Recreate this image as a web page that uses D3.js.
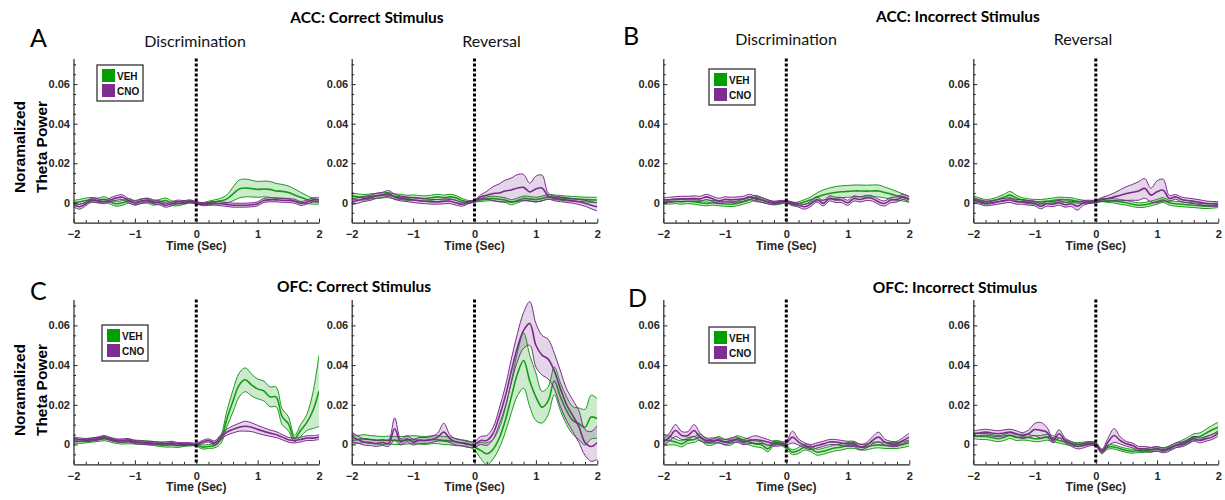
<!DOCTYPE html>
<html>
<head>
<meta charset="utf-8">
<script src="https://cdn.jsdelivr.net/npm/d3@7"></script>
<style>
  body { margin: 0; background: #fff; }
  svg { display: block; }
  .tick text { font-family: Arial, "Liberation Sans", sans-serif; font-weight: bold; font-size: 11px; fill: #262626; }
</style>
</head>
<body>
<svg id="chart" width="1225" height="500"></svg>
<script>
// ---- time base (s, relative to stimulus) ----
const timeSec = [-2.0,-1.9,-1.8,-1.7,-1.6,-1.5,-1.4,-1.3,-1.2,-1.1,-1.0,-0.9,-0.8,-0.7,-0.6,-0.5,-0.4,-0.3,-0.2,-0.1,0.0,
  0.1,0.2,0.3,0.4,0.5,0.6,0.7,0.8,0.9,1.0,1.1,1.2,1.3,1.4,1.5,1.6,1.7,1.8,1.9,2.0];

const groups = ["VEH", "CNO"];

// ---- ACC, correct stimulus, discrimination ----
const accCorrDiscVehMean = [0,0.0005,0.0012,0.0015,0.0012,0.0018,0.0005,-0.0005,0,0.001,0,0.0008,0.001,0,0.0005,0.0012,-0.0002,-0.0005,0,0.0005,0,
  -0.0005,0,0.0005,0.001,0.002,0.0045,0.007,0.0075,0.0072,0.0068,0.007,0.0068,0.006,0.0058,0.0052,0.004,0.0028,0.0017,0.0008,0.0005];
const accCorrDiscVehSem = [0.0013,0.0012,0.0012,0.0012,0.0012,0.0013,0.0012,0.0012,0.0012,0.0012,0.0012,0.0012,0.0012,0.0012,0.0012,0.0012,0.0012,0.001,0.0008,0.0006,0.0005,
  0.0006,0.0008,0.001,0.0013,0.002,0.0035,0.0045,0.0045,0.0042,0.004,0.004,0.004,0.0038,0.0035,0.0033,0.003,0.0025,0.002,0.0015,0.0012];
const accCorrDiscCnoMean = [-0.001,-0.002,-0.0005,0.0014,0.001,0.0005,0.0015,0.0025,0.0028,0.001,0,0.0008,0.0014,0.0005,0,-0.0012,-0.0005,0.0005,0.0003,0.0008,0,
  -0.0007,-0.0005,-0.0003,-0.0005,-0.0008,-0.0012,-0.0012,-0.0012,-0.001,-0.0005,0.0012,0.0015,0.0015,0.0013,0.0012,0.0008,-0.0003,0.0003,0.0015,0.0015];
const accCorrDiscCnoSem = [0.0011,0.0012,0.001,0.001,0.001,0.001,0.001,0.0012,0.0012,0.001,0.001,0.001,0.001,0.001,0.001,0.001,0.001,0.0009,0.0008,0.0007,0.0006,
  0.0007,0.0008,0.0009,0.001,0.001,0.001,0.001,0.001,0.001,0.001,0.001,0.001,0.001,0.001,0.001,0.001,0.001,0.001,0.0011,0.0012];

// ---- ACC, correct stimulus, reversal ----
const accCorrRevVehMean = [0.0035,0.003,0.0028,0.0032,0.0035,0.0038,0.0039,0.0032,0.003,0.0025,0.0027,0.0024,0.0022,0.0026,0.003,0.0026,0.003,0.0025,0.0012,0.0005,0.0008,
  0.0015,0.002,0.0022,0.0018,0.0014,0.0003,0.0012,0.0022,0.002,0.0016,0.0022,0.003,0.0028,0.0025,0.0022,0.002,0.0018,0.0017,0.0015,0.0014];
const accCorrRevVehSem = [0.0016,0.0015,0.0014,0.0013,0.0013,0.0013,0.0013,0.0013,0.0013,0.0013,0.0013,0.0013,0.0013,0.0013,0.0013,0.0013,0.0013,0.0012,0.001,0.0007,0.0005,
  0.0008,0.001,0.0012,0.0012,0.0012,0.0013,0.0012,0.0012,0.0012,0.0012,0.0012,0.0012,0.0012,0.0012,0.0012,0.0012,0.0012,0.0012,0.0013,0.0014];
const accCorrRevCnoMean = [0.0005,0.0012,0.002,0.0025,0.0035,0.004,0.0047,0.003,0.0022,0.0018,0.0014,0.001,0.0008,0.0005,0.0005,0.0007,0.0008,0,-0.0007,0.0002,0.001,
  0.003,0.0038,0.0047,0.005,0.006,0.0065,0.0075,0.0078,0.0055,0.007,0.0075,0.0034,0.0022,0.0018,0.0014,0.001,0.0005,-0.0002,-0.0012,-0.002];
const accCorrRevCnoSem = [0.0015,0.0014,0.0013,0.0013,0.0013,0.0013,0.0015,0.0013,0.0012,0.0012,0.0012,0.0012,0.0012,0.0012,0.0012,0.0012,0.0012,0.0012,0.001,0.0007,0.0005,
  0.001,0.002,0.0035,0.0045,0.0055,0.006,0.0068,0.0065,0.0045,0.0065,0.0065,0.0015,0.0012,0.0012,0.0012,0.0012,0.0013,0.0015,0.0018,0.0022];

// ---- ACC, incorrect stimulus, discrimination ----
const accIncDiscVehMean = [0.0005,0.0005,0.0008,0.0005,0.0008,0.0005,0,-0.0003,0,-0.0003,-0.0005,-0.0007,-0.0003,0.0005,0.0014,0.0025,0.0015,0.0005,-0.0003,0,0.0005,
  -0.0007,-0.0005,0.0005,0.0015,0.003,0.004,0.0047,0.0052,0.0056,0.0058,0.006,0.006,0.0059,0.006,0.006,0.0052,0.0044,0.0035,0.0027,0.0017];
const accIncDiscVehSem = [0.0012,0.0012,0.0012,0.0012,0.0012,0.0012,0.0012,0.0012,0.0012,0.0012,0.0012,0.0012,0.0012,0.0012,0.0012,0.0013,0.0012,0.001,0.0008,0.0007,0.0006,
  0.0008,0.001,0.0012,0.0015,0.002,0.0025,0.0028,0.003,0.003,0.003,0.003,0.003,0.003,0.003,0.003,0.0028,0.0025,0.0022,0.0018,0.0015];
const accIncDiscCnoMean = [0.0014,0.0015,0.0018,0.002,0.002,0.0022,0.002,0.003,0.002,0.001,0.0017,0.0015,0.0017,0.002,0.003,0.002,0.0014,0.0005,0,0.0005,0.0005,
  -0.0003,-0.0012,-0.002,-0.0005,0.0017,-0.0003,0.0022,0.0015,0.0014,0,0.0022,0.0017,0.0025,0.0022,0.0005,-0.0003,0.0014,0.0017,0.003,0.0017];
const accIncDiscCnoSem = [0.0013,0.0013,0.0013,0.0013,0.0013,0.0013,0.0013,0.0013,0.0013,0.0013,0.0013,0.0013,0.0013,0.0013,0.0013,0.0013,0.0012,0.001,0.0008,0.0007,0.0006,
  0.0008,0.001,0.0012,0.0013,0.0013,0.0013,0.0013,0.0013,0.0013,0.0013,0.0013,0.0013,0.0013,0.0013,0.0013,0.0013,0.0013,0.0013,0.0013,0.0013];

// ---- ACC, incorrect stimulus, reversal ----
const accIncRevVehMean = [0.0022,0.0012,0.0005,0.0008,0.0017,0.0028,0.0039,0.0025,0.0014,0.0008,0.0005,0.0005,0.0008,0.0012,0.0017,0.0015,0.0014,0.0008,0.0005,0.0003,0.0005,
  0.0014,0.0012,0.001,0.0005,0,-0.0007,-0.0012,-0.001,-0.0003,0.0005,0.0014,0,-0.0005,-0.0007,-0.001,-0.0012,-0.0015,-0.0017,-0.0015,-0.0012];
const accIncRevVehSem = [0.0015,0.0013,0.0012,0.0012,0.0013,0.0015,0.0018,0.0014,0.0012,0.0012,0.0012,0.0012,0.0012,0.0012,0.0012,0.0012,0.0012,0.001,0.0008,0.0006,0.0005,
  0.0008,0.001,0.0011,0.0012,0.0012,0.0012,0.0012,0.0012,0.0012,0.0012,0.0012,0.0012,0.0012,0.0012,0.0012,0.0012,0.0012,0.0012,0.0012,0.0012];
const accIncRevCnoMean = [0.0014,0.0005,-0.0003,0,0.0005,0.001,0.0014,0.0005,0.0005,0,-0.0003,-0.0017,-0.0005,-0.0007,0,-0.001,-0.0005,-0.0017,0,0.0005,0.0008,
  0.0017,0.0022,0.003,0.0038,0.0047,0.0053,0.006,0.0073,0.0039,0.0056,0.0064,0.0022,0.003,0.0017,0.0012,0.0008,0.0003,-0.0003,-0.0005,-0.0007];
const accIncRevCnoSem = [0.0013,0.0012,0.0012,0.0012,0.0012,0.0012,0.0012,0.0012,0.0012,0.0012,0.0012,0.0013,0.0012,0.0012,0.0012,0.0012,0.0013,0.002,0.0012,0.0008,0.0006,
  0.001,0.0015,0.002,0.0028,0.0035,0.004,0.0047,0.005,0.0035,0.0055,0.0055,0.0015,0.0012,0.0012,0.0012,0.0012,0.0012,0.0012,0.0012,0.0012];

// ---- OFC, correct stimulus, discrimination ----
const ofcCorrDiscVehMean = [0.0012,0.0015,0.0018,0.0022,0.0025,0.0029,0.0022,0.0015,0.0012,0.0014,0.0012,0.001,0.0008,0.0005,0,-0.0003,-0.0003,-0.0005,-0.0002,0,-0.0002,
  -0.0013,-0.001,-0.0005,0.0025,0.013,0.022,0.03,0.0326,0.03,0.028,0.027,0.024,0.024,0.014,0.0105,0.003,0.007,0.011,0.017,0.027];
const ofcCorrDiscVehSem = [0.001,0.001,0.001,0.001,0.001,0.001,0.001,0.001,0.001,0.001,0.001,0.001,0.001,0.001,0.001,0.001,0.001,0.001,0.0008,0.0007,0.0006,
  0.001,0.001,0.0012,0.002,0.004,0.0055,0.006,0.006,0.0055,0.005,0.005,0.005,0.005,0.004,0.0035,0.0015,0.003,0.004,0.009,0.018];
const ofcCorrDiscCnoMean = [0.003,0.0025,0.0022,0.0025,0.003,0.0037,0.0028,0.002,0.002,0.0022,0.0012,0.001,0.0008,0.0007,0.0005,0.0005,0.0008,0.0002,0.0002,0.0002,0,
  0.0012,0.002,0.0008,0.0037,0.0062,0.0076,0.0087,0.0092,0.0087,0.0076,0.0066,0.0057,0.005,0.0037,0.0024,0.002,0.0025,0.0032,0.0032,0.0037];
const ofcCorrDiscCnoSem = [0.0008,0.0008,0.0008,0.0008,0.0008,0.0008,0.0008,0.0008,0.0008,0.0008,0.0008,0.0008,0.0008,0.0008,0.0008,0.0008,0.0008,0.0008,0.0007,0.0006,0.0006,
  0.0008,0.0008,0.001,0.0012,0.0015,0.0018,0.002,0.0025,0.0022,0.002,0.0018,0.0016,0.0015,0.0013,0.0012,0.0012,0.0012,0.0012,0.0012,0.0012];

// ---- OFC, correct stimulus, reversal ----
const ofcCorrRevVehMean = [0.002,0.0025,0.0029,0.0025,0.0022,0.002,0.0022,0.002,0.002,0.0022,0.0024,0.0022,0.002,0.0024,0.0024,0.002,0.0018,0.0012,0.0008,0.0003,-0.0013,
  -0.003,-0.0047,-0.0025,0.003,0.012,0.024,0.0356,0.0423,0.032,0.024,0.0188,0.022,0.032,0.024,0.017,0.0121,0.0104,0.0087,0.0138,0.013];
const ofcCorrRevVehSem = [0.002,0.002,0.002,0.002,0.002,0.002,0.002,0.002,0.002,0.002,0.002,0.002,0.002,0.002,0.002,0.002,0.002,0.0018,0.0015,0.0015,0.0015,
  0.004,0.0055,0.005,0.005,0.006,0.008,0.011,0.014,0.013,0.012,0.008,0.007,0.007,0.007,0.007,0.007,0.008,0.009,0.011,0.01];
const ofcCorrRevCnoMean = [0.0037,0.0025,0.0012,0.001,0.0005,0.001,0.0005,0.0079,0.0012,0.0029,0.0012,0.002,0.002,0.0025,0.0037,0.0062,0.0029,0.0012,0.0007,0,0,
  0.002,0.002,0.0054,0.0138,0.024,0.037,0.049,0.0575,0.061,0.05,0.045,0.043,0.037,0.028,0.02,0.0145,0.009,0.001,-0.001,0.001];
const ofcCorrRevCnoSem = [0.0025,0.0018,0.0015,0.0015,0.0015,0.0015,0.0015,0.0055,0.0015,0.0015,0.0015,0.0015,0.0015,0.0015,0.002,0.0045,0.002,0.0015,0.0015,0.0015,0.0015,
  0.002,0.0025,0.003,0.004,0.005,0.006,0.007,0.009,0.011,0.011,0.01,0.01,0.009,0.009,0.008,0.008,0.008,0.0065,0.0075,0.0085];

// ---- OFC, incorrect stimulus, discrimination ----
const ofcIncDiscVehMean = [0.0024,0.002,0.0012,0.0003,0.002,0.0025,0.0037,0.0012,0.0012,0.0025,0.0012,0.0012,0.0029,0.002,0.0012,0.0003,-0.0002,-0.0022,0.0007,0.0007,-0.0013,
  -0.0039,-0.003,-0.0013,-0.0022,-0.0039,-0.0034,-0.0025,-0.0017,-0.0013,-0.0005,-0.0005,-0.0013,-0.0013,-0.0005,-0.0002,-0.0005,-0.0005,-0.0005,0,0.0007];
const ofcIncDiscVehSem = [0.0028,0.0022,0.0015,0.0015,0.0015,0.0015,0.0015,0.0015,0.0015,0.0015,0.0015,0.0015,0.0015,0.0015,0.0015,0.0015,0.0015,0.0015,0.0012,0.001,0.001,
  0.0012,0.0015,0.0015,0.0015,0.0015,0.0015,0.0015,0.0015,0.0015,0.0015,0.0015,0.0015,0.0015,0.0015,0.0015,0.0015,0.0015,0.0015,0.0015,0.0015];
const ofcIncDiscCnoMean = [0.0012,0.0037,0.007,0.0045,0.0045,0.007,0.0037,0.002,0.002,0.002,0.0012,0.002,0.0024,0.0012,0.002,0.0024,0.002,0.0012,0.0003,0.0003,0.0007,
  0.0037,0.0012,-0.0005,-0.0013,-0.0005,0.0003,0.0012,0.0012,0.0007,0.0003,0.0003,-0.0013,-0.0005,0.002,0.0037,0.0012,0.0003,0.0003,0.002,0.0037];
const ofcIncDiscCnoSem = [0.0015,0.002,0.003,0.002,0.002,0.003,0.002,0.0013,0.0013,0.0013,0.0013,0.0013,0.0013,0.0013,0.0015,0.002,0.0015,0.0013,0.0012,0.001,0.001,
  0.003,0.0015,0.0013,0.0013,0.0013,0.0013,0.0013,0.0013,0.0013,0.0013,0.0013,0.0013,0.0013,0.0018,0.0025,0.0015,0.0013,0.0013,0.0015,0.002];

// ---- OFC, incorrect stimulus, reversal ----
const ofcIncRevVehMean = [0.0045,0.004,0.004,0.0035,0.0029,0.0035,0.0045,0.0035,0.0037,0.0035,0.0029,0.003,0.0037,0.0029,0.002,0.0012,0.0003,0,0.0003,0.0007,0.0003,
  -0.0034,-0.0013,-0.0013,-0.0022,-0.003,-0.0034,-0.003,-0.003,-0.0027,-0.0022,-0.0027,-0.0017,-0.0005,0.0007,0.002,0.0037,0.004,0.0057,0.0074,0.0087];
const ofcIncRevVehSem = [0.0015,0.0015,0.0015,0.0015,0.0015,0.0015,0.0015,0.0015,0.0015,0.0015,0.0015,0.0015,0.0015,0.0015,0.0013,0.0012,0.001,0.001,0.0009,0.0008,0.0008,
  0.0008,0.001,0.001,0.001,0.001,0.001,0.001,0.001,0.001,0.001,0.001,0.001,0.0012,0.0013,0.0015,0.0017,0.0018,0.002,0.0022,0.0025];
const ofcIncRevCnoMean = [0.0054,0.0058,0.0062,0.0058,0.0054,0.0058,0.0062,0.0054,0.0045,0.0054,0.0075,0.0071,0.0062,0.002,0.0054,0.002,0.0003,-0.001,-0.0005,0.0003,0,
  -0.0035,0.0012,0.0045,0.002,0.0003,-0.0005,-0.0022,-0.0022,-0.0027,-0.0022,-0.003,-0.0022,-0.0005,0,0.0012,0.0029,0.002,0.0029,0.0037,0.0057];
const ofcIncRevCnoSem = [0.0015,0.0015,0.0015,0.0015,0.0015,0.0015,0.0015,0.0015,0.0015,0.0018,0.003,0.004,0.0025,0.0012,0.002,0.0012,0.0012,0.0012,0.0012,0.001,0.0008,
  0.0012,0.002,0.0035,0.0018,0.0012,0.0012,0.0012,0.0012,0.0012,0.0012,0.0012,0.0012,0.0012,0.0012,0.0012,0.0012,0.0012,0.0012,0.0012,0.0015];

// ---- axis ticks ----
const xMajorTicks = [-2, -1, 0, 1, 2];
const xMinorTicks = [-1.8,-1.6,-1.4,-1.2,-0.8,-0.6,-0.4,-0.2,0.2,0.4,0.6,0.8,1.2,1.4,1.6,1.8];
const yMajorTicks = [0, 0.02, 0.04, 0.06];
const yMajorLabels = ["0", "0.02", "0.04", "0.06"];
const yMinorTicks = [-0.005,0.005,0.01,0.015,0.025,0.03,0.035,0.045,0.05,0.055,0.065,0.07];

// ---- layout ----
const svg = d3.select("#chart");
const rows = [
  { yBottom: 222.6, yTop: 58.4 },
  { yBottom: 464.3, yTop: 299.6 }
];
const panels = [
  { row: 0, left: 73.5, right: 319,   veh: [accCorrDiscVehMean, accCorrDiscVehSem], cno: [accCorrDiscCnoMean, accCorrDiscCnoSem], legend: [97, 65] },
  { row: 0, left: 351.7, right: 597.3, veh: [accCorrRevVehMean, accCorrRevVehSem],  cno: [accCorrRevCnoMean, accCorrRevCnoSem] },
  { row: 0, left: 663.3, right: 909.3, veh: [accIncDiscVehMean, accIncDiscVehSem],  cno: [accIncDiscCnoMean, accIncDiscCnoSem], legend: [709, 69] },
  { row: 0, left: 973.3, right: 1218.3, veh: [accIncRevVehMean, accIncRevVehSem],   cno: [accIncRevCnoMean, accIncRevCnoSem] },
  { row: 1, left: 73.5, right: 319,   veh: [ofcCorrDiscVehMean, ofcCorrDiscVehSem], cno: [ofcCorrDiscCnoMean, ofcCorrDiscCnoSem], legend: [102, 325] },
  { row: 1, left: 351.7, right: 597.3, veh: [ofcCorrRevVehMean, ofcCorrRevVehSem],  cno: [ofcCorrRevCnoMean, ofcCorrRevCnoSem] },
  { row: 1, left: 663.3, right: 909.3, veh: [ofcIncDiscVehMean, ofcIncDiscVehSem],  cno: [ofcIncDiscCnoMean, ofcIncDiscCnoSem], legend: [709, 327] },
  { row: 1, left: 973.3, right: 1218.3, veh: [ofcIncRevVehMean, ofcIncRevVehSem],   cno: [ofcIncRevCnoMean, ofcIncRevCnoSem] }
];

const colors = {
  VEH: { line: "#169b16", fill: "#009900", swatch: "#00a000" },
  CNO: { line: "#7a2b8c", fill: "#7e2f8e", swatch: "#7d2e8f" }
};
const axisColor = "#262626";
const titleFont = "Lato, 'Open Sans', sans-serif";
const tickFont = "Arial, 'Liberation Sans', sans-serif";

const curve = d3.curveCatmullRom.alpha(0.5);

panels.forEach((p, i) => {
  const r = rows[p.row];
  const x = d3.scaleLinear().domain([-2, 2]).range([p.left, p.right]);
  const y = d3.scaleLinear().domain([-0.01, 0.073]).range([r.yBottom, r.yTop]);
  const g = svg.append("g");

  const clipId = "clip" + i;
  svg.append("clipPath").attr("id", clipId)
    .append("rect")
    .attr("x", p.left).attr("y", r.yTop)
    .attr("width", p.right - p.left).attr("height", r.yBottom - r.yTop);

  const plot = g.append("g").attr("clip-path", `url(#${clipId})`);

  [["VEH", p.veh], ["CNO", p.cno]].forEach(([name, [mean, sem]]) => {
    const pts = timeSec.map((t, k) => ({ t, m: mean[k], s: sem[k] }));
    const c = colors[name];
    plot.append("path")
      .attr("d", d3.area().curve(curve)
        .x(d => x(d.t)).y0(d => y(d.m - d.s)).y1(d => y(d.m + d.s))(pts))
      .attr("fill", c.fill).attr("fill-opacity", 0.2).attr("stroke", "none");
    [[-1, 1], [1, 1], [0, 1.6]].forEach(([sign, w]) => {
      plot.append("path")
        .attr("d", d3.line().curve(curve)
          .x(d => x(d.t)).y(d => y(d.m + sign * d.s))(pts))
        .attr("fill", "none").attr("stroke", c.line).attr("stroke-width", w);
    });
  });

  // stimulus onset marker
  g.append("line")
    .attr("x1", x(0)).attr("x2", x(0))
    .attr("y1", r.yTop).attr("y2", r.yBottom)
    .attr("stroke", "#000").attr("stroke-width", 3)
    .attr("stroke-dasharray", "3,2");

  // axes (ticks point inward)
  const yAxis = g.append("g").attr("transform", `translate(${p.left},0)`)
    .call(d3.axisLeft(y).tickValues(yMajorTicks)
      .tickFormat((d, k) => yMajorLabels[k]).tickSizeInner(-4).tickSizeOuter(0).tickPadding(3.5));
  g.append("g").attr("transform", `translate(${p.left},0)`)
    .call(d3.axisLeft(y).tickValues(yMinorTicks).tickFormat("").tickSizeInner(-2.5).tickSizeOuter(0))
    .select(".domain").remove();
  const xAxis = g.append("g").attr("transform", `translate(0,${r.yBottom})`)
    .call(d3.axisBottom(x).tickValues(xMajorTicks).tickFormat(d3.format("d"))
      .tickSizeInner(-4).tickSizeOuter(0).tickPadding(8));
  g.append("g").attr("transform", `translate(0,${r.yBottom})`)
    .call(d3.axisBottom(x).tickValues(xMinorTicks).tickFormat("").tickSizeInner(-2.5).tickSizeOuter(0))
    .select(".domain").remove();
  g.selectAll(".domain").attr("stroke", axisColor).attr("stroke-width", 1.2);
  g.selectAll(".tick line").attr("stroke", axisColor).attr("stroke-width", 1);

  g.append("text")
    .attr("x", x(0)).attr("y", r.yBottom + 27)
    .attr("text-anchor", "middle")
    .attr("font-family", tickFont).attr("font-weight", "bold").attr("font-size", 12)
    .attr("fill", axisColor)
    .text("Time (Sec)");

  if (p.legend) {
    const [lx, ly] = p.legend;
    const lg = g.append("g");
    lg.append("rect").attr("x", lx).attr("y", ly).attr("width", 46).attr("height", 36)
      .attr("fill", "#fff").attr("stroke", "#333").attr("stroke-width", 1.3);
    groups.forEach((name, k) => {
      lg.append("rect").attr("x", lx + 5).attr("y", ly + 4 + k * 15)
        .attr("width", 13).attr("height", 13).attr("fill", colors[name].swatch);
      lg.append("text").attr("x", lx + 20).attr("y", ly + 15 + k * 14.5)
        .attr("font-family", tickFont).attr("font-weight", "bold").attr("font-size", 10)
        .attr("fill", "#111").text(name);
    });
  }
});

// ---- headings ----
const headings = [
  { text: "ACC: Correct Stimulus",   x: 367, y: 23 },
  { text: "ACC: Incorrect Stimulus", x: 958, y: 21.5 },
  { text: "OFC: Correct Stimulus",   x: 354, y: 291.7 },
  { text: "OFC: Incorrect Stimulus", x: 955, y: 293 }
];
headings.forEach(h => svg.append("text")
  .attr("x", h.x).attr("y", h.y).attr("text-anchor", "middle")
  .attr("font-family", titleFont).attr("font-weight", "bold").attr("font-size", 15.5)
  .attr("fill", "#000").text(h.text));

const subtitles = [
  { text: "Discrimination", x: 195,   y: 46.7 },
  { text: "Reversal",       x: 491.5, y: 46.7 },
  { text: "Discrimination", x: 786,   y: 45 },
  { text: "Reversal",       x: 1083,  y: 45 }
];
subtitles.forEach(s => svg.append("text")
  .attr("x", s.x).attr("y", s.y).attr("text-anchor", "middle")
  .attr("font-family", titleFont).attr("font-size", 16)
  .attr("fill", "#111").text(s.text));

const letters = [
  { text: "A", x: 30, y: 47 },
  { text: "B", x: 623, y: 45 },
  { text: "C", x: 30, y: 300 },
  { text: "D", x: 628, y: 306.5 }
];
letters.forEach(l => svg.append("text")
  .attr("x", l.x).attr("y", l.y)
  .attr("font-family", titleFont).attr("font-size", 25)
  .attr("fill", "#000").text(l.text));

// ---- y-axis titles ----
[147, 390].forEach(cy => {
  [["Noramalized", 25], ["Theta Power", 47]].forEach(([txt, bx]) => {
    svg.append("text")
      .attr("transform", `translate(${bx},${cy}) rotate(-90)`)
      .attr("text-anchor", "middle")
      .attr("font-family", tickFont).attr("font-weight", "bold").attr("font-size", 15.5)
      .attr("fill", "#000").text(txt);
  });
});
</script>
</body>
</html>
